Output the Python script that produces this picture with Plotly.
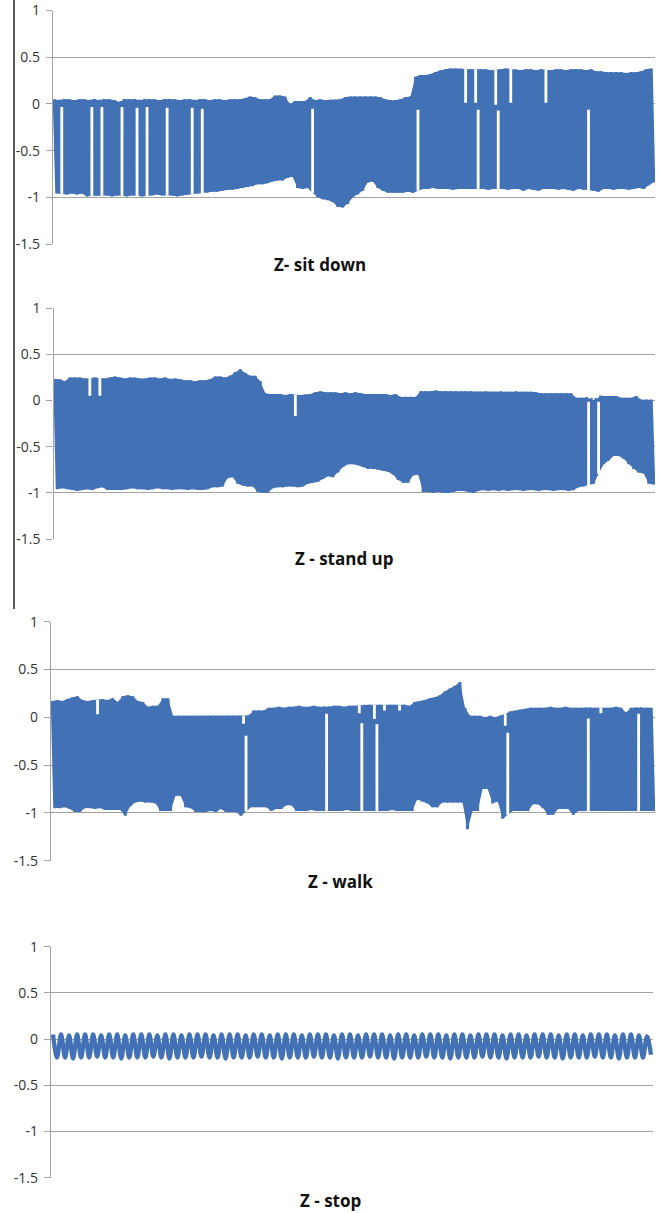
import plotly.graph_objects as go

W, H = 660, 1213

# ---------------- data (per-cycle peak / trough values) ----------------
sit_hi = [
    0.05, 0.04, 0.05, 0.05, 0.04, 0.05, 0.05, 0.04, 0.05, 0.04,
    0.05, 0.05, 0.04, 0.02, 0.05, 0.05, 0.05, 0.04, 0.05, 0.05,
    0.05, 0.04, 0.05, 0.05, 0.05, 0.04, 0.05, 0.05, 0.04, 0.05,
    0.05, 0.04, 0.05, 0.05, 0.04, 0.05, 0.05, 0.05, 0.06, 0.08,
    0.07, 0.05, 0.05, 0.05, 0.09, 0.09, 0.08, 0.00, 0.03, 0.03,
    0.03, 0.07, 0.04, 0.05, 0.04, 0.045, 0.045, 0.05, 0.07, 0.08,
    0.08, 0.08, 0.08, 0.08, 0.08, 0.07, 0.05, 0.04, 0.04, 0.05,
    0.07, 0.08, 0.29, 0.31, 0.31, 0.32, 0.34, 0.36, 0.37, 0.38,
    0.38, 0.38, 0.00, 0.37, 0.00, 0.37, 0.37, 0.36, -0.02, 0.37,
    0.38, 0.00, 0.37, 0.36, 0.37, 0.37, 0.36, 0.37, 0.00, 0.36,
    0.37, 0.37, 0.36, 0.37, 0.37, 0.37, 0.36, 0.37, 0.35, 0.35,
    0.34, 0.34, 0.34, 0.34, 0.33, 0.34, 0.34, 0.35, 0.37, 0.38,
]
sit_lo = [
    -0.96, -0.02, -0.97, -0.96, -0.97, -0.96, -0.99, -0.02, -0.98, -0.02,
    -0.98, -0.99, -0.98, -0.02, -0.99, -0.98, -0.03, -0.99, -0.02, -0.98,
    -0.97, -0.98, -0.03, -0.98, -0.99, -0.98, -0.97, -0.03, -0.96, -0.04,
    -0.95, -0.94, -0.94, -0.93, -0.92, -0.92, -0.91, -0.90, -0.89, -0.88,
    -0.86, -0.86, -0.85, -0.83, -0.82, -0.82, -0.79, -0.78, -0.90, -0.91,
    -0.90, -0.04, -1.00, -1.02, -1.03, -1.05, -1.10, -1.11, -1.07, -1.00,
    -0.97, -0.93, -0.84, -0.83, -0.90, -0.93, -0.95, -0.95, -0.95, -0.95,
    -0.94, -0.95, -0.05, -0.91, -0.91, -0.90, -0.91, -0.91, -0.91, -0.92,
    -0.91, -0.91, -0.91, -0.91, -0.05, -0.91, -0.92, -0.91, -0.06, -0.91,
    -0.92, -0.91, -0.91, -0.93, -0.91, -0.92, -0.93, -0.91, -0.91, -0.91,
    -0.92, -0.91, -0.92, -0.93, -0.91, -0.92, -0.05, -0.93, -0.94, -0.91,
    -0.91, -0.92, -0.91, -0.91, -0.92, -0.91, -0.90, -0.91, -0.87, -0.84,
]

stand_hi = [
    0.235, 0.23, 0.21, 0.25, 0.25, 0.25, 0.24, 0.04, 0.25, 0.04,
    0.24, 0.25, 0.26, 0.25, 0.24, 0.25, 0.25, 0.24, 0.24, 0.25,
    0.25, 0.24, 0.25, 0.235, 0.24, 0.23, 0.22, 0.22, 0.21, 0.22,
    0.22, 0.23, 0.26, 0.26, 0.25, 0.27, 0.31, 0.34, 0.30, 0.27,
    0.27, 0.21, 0.08, 0.07, 0.07, 0.07, 0.06, 0.07, -0.18, 0.06,
    0.065, 0.07, 0.09, 0.10, 0.09, 0.09, 0.09, 0.08, 0.09, 0.08,
    0.09, 0.08, 0.07, 0.07, 0.07, 0.07, 0.07, 0.06, 0.07, 0.04,
    0.04, 0.04, 0.04, 0.10, 0.10, 0.10, 0.11, 0.10, 0.10, 0.10,
    0.10, 0.10, 0.10, 0.10, 0.095, 0.095, 0.10, 0.095, 0.095, 0.10,
    0.095, 0.095, 0.10, 0.095, 0.095, 0.095, 0.09, 0.08, 0.08, 0.08,
    0.08, 0.08, 0.08, 0.08, 0.03, 0.03, 0.03, 0.01, 0.01, 0.05,
    0.05, 0.05, 0.05, 0.03, 0.03, 0.03, 0.05, 0.01, 0.01, 0.01,
]
stand_lo = [
    -0.96, -0.95, -0.96, -0.97, -0.98, -0.97, -0.96, -0.97, -0.95, -0.94,
    -0.97, -0.97, -0.97, -0.97, -0.96, -0.95, -0.96, -0.96, -0.97, -0.96,
    -0.95, -0.96, -0.96, -0.97, -0.96, -0.96, -0.97, -0.96, -0.97, -0.97,
    -0.96, -0.94, -0.94, -0.93, -0.84, -0.83, -0.90, -0.92, -0.93, -0.93,
    -0.99, -1.00, -1.00, -0.95, -0.94, -0.94, -0.93, -0.93, -0.94, -0.93,
    -0.90, -0.89, -0.88, -0.85, -0.82, -0.83, -0.78, -0.72, -0.69, -0.69,
    -0.70, -0.72, -0.74, -0.74, -0.75, -0.76, -0.77, -0.80, -0.86, -0.89,
    -0.89, -0.81, -0.80, -0.99, -0.99, -1.00, -0.99, -1.00, -1.00, -0.99,
    -0.98, -0.98, -0.99, -1.00, -0.98, -0.97, -0.98, -0.97, -0.98, -0.97,
    -0.98, -0.97, -0.97, -0.98, -0.97, -0.97, -0.98, -0.97, -0.97, -0.98,
    -0.97, -0.97, -0.98, -0.97, -0.94, -0.93, 0.00, -0.90, 0.00, -0.69,
    -0.65, -0.60, -0.60, -0.63, -0.69, -0.74, -0.78, -0.79, -0.90, -0.91,
]

walk_hi = [
    0.17, 0.18, 0.17, 0.19, 0.21, 0.22, 0.18, 0.17, 0.18, 0.02,
    0.19, 0.18, 0.20, 0.16, 0.22, 0.23, 0.22, 0.17, 0.16, 0.11,
    0.12, 0.12, 0.20, 0.20, 0.015, 0.015, 0.015, 0.015, 0.015, 0.015,
    0.015, 0.015, 0.015, 0.015, 0.015, 0.015, 0.015, 0.015, -0.08, 0.02,
    0.07, 0.07, 0.07, 0.10, 0.10, 0.11, 0.10, 0.11, 0.11, 0.12,
    0.11, 0.11, 0.12, 0.11, 0.11, 0.11, 0.12, 0.12, 0.11, 0.12,
    0.12, 0.03, 0.13, 0.13, -0.03, 0.13, 0.06, 0.13, 0.13, 0.06,
    0.13, 0.12, 0.16, 0.17, 0.18, 0.20, 0.21, 0.23, 0.27, 0.30,
    0.33, 0.37, 0.10, 0.016, 0.016, 0.016, 0.00, 0.016, 0.00, 0.016,
    -0.10, 0.06, 0.07, 0.08, 0.09, 0.10, 0.10, 0.10, 0.10, 0.11,
    0.10, 0.10, 0.11, 0.10, 0.10, 0.10, 0.10, 0.10, 0.10, 0.03,
    0.10, 0.10, 0.11, 0.10, 0.05, 0.10, 0.10, 0.10, 0.10, 0.10,
]
walk_lo = [
    -0.95, -0.95, -0.94, -0.96, -0.99, -0.99, -0.95, -0.95, -0.96, -0.95,
    -0.97, -0.97, -0.97, -0.97, -1.03, -0.93, -0.89, -0.88, -0.89, -0.89,
    -0.90, -0.98, -0.98, -0.98, -0.82, -0.82, -0.94, -0.95, -0.99, -0.99,
    -0.99, -0.98, -0.99, -0.96, -0.99, -0.99, -0.99, -1.03, -0.18, -0.94,
    -0.94, -0.94, -0.94, -0.98, -0.96, -0.96, -0.92, -0.92, -0.98, -0.98,
    -0.98, -0.97, -0.98, -0.98, 0.05, -0.98, -0.98, -0.98, -0.97, -0.98,
    -0.98, -0.05, -0.98, -0.98, -0.06, -0.98, -0.98, -0.97, -0.98, -0.98,
    -0.98, -0.98, -0.86, -0.88, -0.90, -0.94, -0.94, -0.89, -0.89, -0.89,
    -0.89, -0.89, -1.17, -0.98, -0.98, -0.75, -0.75, -0.90, -0.88, -1.06,
    -0.15, -0.98, -0.98, -0.98, -0.98, -0.91, -0.91, -0.95, -1.02, -1.02,
    -0.96, -0.96, -0.96, -1.02, -0.98, -0.98, 0.00, -0.98, -0.98, -0.98,
    -0.98, -0.98, -0.98, -0.98, -0.98, -0.98, 0.05, -0.98, -0.98, -0.98,
]

stop_hi = [
    0.05, 0.05, 0.04, 0.05, 0.05, 0.05, 0.04, 0.05, 0.05, 0.04,
    0.05, 0.05, 0.05, 0.04, 0.05, 0.05, 0.04, 0.05, 0.05, 0.05,
    0.04, 0.05, 0.05, 0.05, 0.04, 0.05, 0.05, 0.04, 0.05, 0.05,
    0.05, 0.04, 0.05, 0.05, 0.05, 0.04, 0.05, 0.05, 0.04, 0.05,
    0.05, 0.05, 0.04, 0.05, 0.05, 0.04, 0.05, 0.05, 0.05, 0.04,
    0.05, 0.05, 0.04, 0.05, 0.05, 0.05, 0.04, 0.05, 0.05, 0.04,
    0.05, 0.05, 0.05, 0.04, 0.05, 0.05, 0.04, 0.05, 0.05, 0.05,
    0.04, 0.05, 0.05, 0.04, 0.03,
]
stop_lo = [
    -0.20, -0.20, -0.21, -0.20, -0.20, -0.19, -0.20, -0.20, -0.21, -0.20,
    -0.20, -0.20, -0.19, -0.20, -0.21, -0.20, -0.20, -0.20, -0.19, -0.20,
    -0.20, -0.21, -0.20, -0.20, -0.20, -0.19, -0.20, -0.20, -0.21, -0.20,
    -0.20, -0.20, -0.19, -0.20, -0.20, -0.21, -0.20, -0.20, -0.20, -0.19,
    -0.20, -0.20, -0.21, -0.20, -0.20, -0.20, -0.19, -0.20, -0.20, -0.21,
    -0.20, -0.20, -0.20, -0.19, -0.20, -0.20, -0.21, -0.20, -0.20, -0.20,
    -0.19, -0.20, -0.20, -0.21, -0.20, -0.20, -0.20, -0.19, -0.20, -0.20,
    -0.21, -0.20, -0.20, -0.20, -0.17,
]

titles = ["Z- sit down", "Z - stand up", "Z - walk", "Z - stop"]
y_tick_vals = [-1.5, -1, -0.5, 0, 0.5, 1]
y_tick_text = ["-1.5", "-1", "-0.5", "0", "0.5", "1"]

# ---------------- layout geometry (pixels) ----------------
boxes = [  # left, right, top, bottom
    (53, 655, 10.5, 244),
    (53.5, 655, 308.3, 539),
    (51, 655, 621.7, 860.7),
    (51, 653, 946.7, 1177.7),
]
title_xy = [(320, 264), (344, 558), (340, 881), (330, 1200)]

BLUE = "#4272b5"
GRID = "#a3a3a3"
TICKFONT = dict(family="Open Sans, Liberation Sans, sans-serif", size=14, color="#333333")
TITLEFONT = dict(family="Open Sans, Liberation Sans, sans-serif", size=17, color="#111111")


def px_x(p):
    return p / W


def px_y(p):
    return 1 - p / H


def interleave(hi, lo):
    out = []
    for h, l in zip(hi, lo):
        out.append(h)
        out.append(l)
    return out


def nbrs(n, i):
    return [j for j in (i - 1, i + 1) if 0 <= j < n]


def top_gap(hi, i):
    return hi[i] < min(hi[j] for j in nbrs(len(hi), i)) - 0.06


def bot_gap(lo, i):
    return lo[i] > max(lo[j] for j in nbrs(len(lo), i)) + 0.2


def body(hi, lo):
    """Envelope polygon of the oscillation, plus white slits where a cycle did not reach."""
    n = len(hi)
    env_hi, env_lo = [], []
    sx, sy = [], []
    for i in range(n):
        nb = nbrs(n, i)
        if top_gap(hi, i):
            e = sum(hi[j] for j in nb) / len(nb)
            env_hi.append(e)
            sx += [2 * i, 2 * i, None]
            sy += [hi[i] + 0.012, e, None]
        else:
            env_hi.append(hi[i])
        if bot_gap(lo, i):
            e = sum(lo[j] for j in nb) / len(nb)
            env_lo.append(e)
            sx += [2 * i + 1, 2 * i + 1, None]
            sy += [lo[i] - 0.012, e, None]
        else:
            env_lo.append(lo[i])
    bx = [2 * i for i in range(n)] + [2 * i + 1 for i in reversed(range(n))] + [0]
    by = env_hi + env_lo[::-1] + [env_hi[0]]
    return bx, by, sx, sy


series = [(sit_hi, sit_lo), (stand_hi, stand_lo), (walk_hi, walk_lo), (stop_hi, stop_lo)]

fig = go.Figure()
layout = dict(
    width=W, height=H,
    margin=dict(l=0, r=0, t=0, b=0, pad=0, autoexpand=False),
    paper_bgcolor="white", plot_bgcolor="white",
    showlegend=False,
    annotations=[], shapes=[],
)

for i, ((hi, lo), (l, r, t, b)) in enumerate(zip(series, boxes)):
    k = "" if i == 0 else str(i + 1)
    ys = interleave(hi, lo)
    xs = list(range(len(ys)))
    if i < 3:
        bx, by, sx, sy = body(hi, lo)
        fig.add_trace(go.Scatter(
            x=bx, y=by, mode="lines", fill="toself", fillcolor=BLUE,
            line=dict(width=0, color=BLUE), xaxis="x" + k, yaxis="y" + k,
            hoverinfo="skip",
        ))
    fig.add_trace(go.Scatter(
        x=xs, y=ys, mode="lines",
        line=dict(color=BLUE, width=3 if i < 3 else 4.3,
                  shape="linear" if i < 3 else "spline", simplify=False),
        xaxis="x" + k, yaxis="y" + k, hoverinfo="skip",
    ))
    if i < 3 and sx:
        fig.add_trace(go.Scatter(
            x=sx, y=sy, mode="lines", line=dict(color="white", width=2.8),
            connectgaps=False, xaxis="x" + k, yaxis="y" + k, hoverinfo="skip",
        ))
    layout["xaxis" + k] = dict(
        domain=[px_x(l), px_x(r)], range=[-0.5, len(ys) - 0.5],
        visible=False, anchor="y" + k, fixedrange=True, automargin=False,
    )
    layout["yaxis" + k] = dict(
        domain=[px_y(b), px_y(t)], range=[-1.5, 1],
        tickvals=y_tick_vals, ticktext=y_tick_text,
        showgrid=True, gridcolor=GRID, gridwidth=1.3,
        zeroline=False, showline=True, linecolor=GRID, linewidth=1.3,
        ticks="outside", ticklen=6, tickcolor=GRID, tickwidth=1.3,
        ticklabelstandoff=3,
        tickfont=TICKFONT, anchor="x" + k, fixedrange=True, automargin=False,
    )
    tx, ty = title_xy[i]
    layout["annotations"].append(dict(
        text="<b>" + titles[i] + "</b>", x=px_x(tx), y=px_y(ty),
        xref="paper", yref="paper", xanchor="center", yanchor="middle",
        showarrow=False, font=TITLEFONT,
    ))

# thin black frame line at the left of the upper two panels
layout["shapes"].append(dict(
    type="line", xref="paper", yref="paper",
    x0=px_x(14), x1=px_x(14), y0=px_y(0), y1=px_y(609),
    line=dict(color="black", width=1.3),
))

fig.update_layout(**layout)

fig.write_html(
    "out.html",
    config={"displayModeBar": False},
    post_script="document.body.style.margin='0';document.body.style.overflow='hidden';",
)
